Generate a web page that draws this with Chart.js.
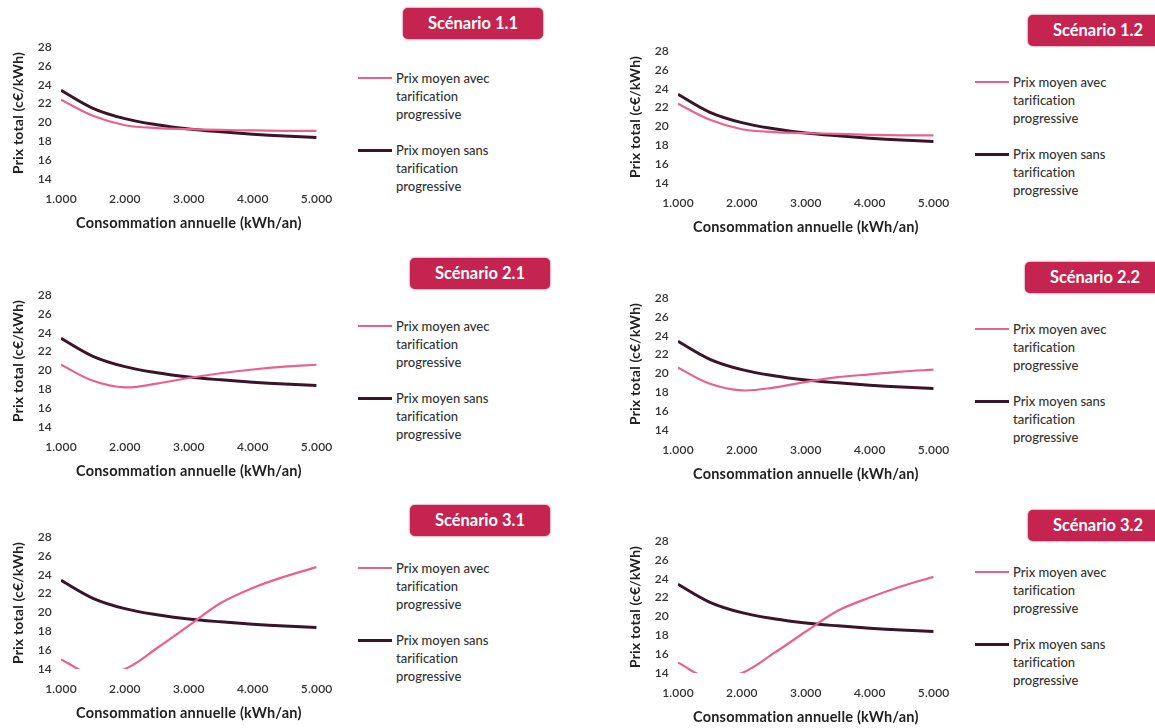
<!DOCTYPE html>
<html>
<head>
<meta charset="utf-8">
<script src="https://cdn.jsdelivr.net/npm/chart.js@4/dist/chart.umd.min.js"></script>
<style>
    body { margin:0; background:#fff; width:1155px; height:728px; overflow:hidden; position:relative; font-family:Lato, "Open Sans", sans-serif; font-variant-ligatures:none; }
    .panel { position:absolute; width:560px; height:240px; }
    .panel canvas { position:absolute; left:0; top:30px; }
    .badge { position:absolute; width:140px; height:31px; background:#c4244f; color:#fff; font-weight:bold; font-size:16.5px; line-height:31px; text-align:center; border-radius:5px; box-shadow:0 0 2px #9c1a3e; }
    .legend { position:absolute; left:358px; top:69px; font-size:13px; font-weight:500; color:#333; line-height:18px; }
    .legend_item { position:relative; padding-left:38px; margin-bottom:18px; white-space:pre; }
    .legend_item .swatch { position:absolute; left:0; width:34px; }
</style>
</head>
<body>
<script>
// consumption (kWh/an) and average total price (c€/kWh)
var consumption = [1000, 1500, 2000, 2500, 3000, 3500, 4000, 4500, 5000];
var prix_sans_tarification = [23.4, 21.5, 20.4, 19.75, 19.3, 19.0, 18.75, 18.55, 18.4];
var prix_avec_1_1 = [22.4, 20.7, 19.7, 19.4, 19.3, 19.2, 19.15, 19.1, 19.1];
var prix_avec_1_2 = [22.4, 20.7, 19.7, 19.4, 19.3, 19.2, 19.1, 19.05, 19.05];
var prix_avec_2_1 = [20.6, 18.9, 18.2, 18.6, 19.2, 19.7, 20.1, 20.4, 20.6];
var prix_avec_2_2 = [20.6, 18.9, 18.2, 18.5, 19.1, 19.6, 19.9, 20.2, 20.4];
var prix_avec_3_1 = [15.0, 13.4, 14.0, 16.2, 18.6, 21.0, 22.6, 23.8, 24.8];
var prix_avec_3_2 = [15.1, 13.4, 14.0, 16.1, 18.4, 20.6, 22.0, 23.2, 24.2];

var scenario_names = ["Scénario 1.1", "Scénario 1.2", "Scénario 2.1", "Scénario 2.2", "Scénario 3.1", "Scénario 3.2"];
var scenario_series = [prix_avec_1_1, prix_avec_1_2, prix_avec_2_1, prix_avec_2_2, prix_avec_3_1, prix_avec_3_2];

var label_avec = ["Prix moyen avec", "tarification", "progressive"];
var label_sans = ["Prix moyen sans", "tarification", "progressive"];
var x_ticks = [1000, 2000, 3000, 4000, 5000];
var y_min = 14, y_max = 28, y_step = 2;

var color_avec = "#e9628d";
var color_sans = "#3a1428";

// where each panel sits on the page (left, top) and its badge offset inside the panel
var panel_layout = [
    { left: 0,   top: 0,   badge_left: 403, badge_top: 8 },
    { left: 617, top: 4,   badge_left: 411, badge_top: 11 },
    { left: 0,   top: 248, badge_left: 410, badge_top: 10 },
    { left: 617, top: 251, badge_left: 408, badge_top: 11 },
    { left: 0,   top: 490, badge_left: 410, badge_top: 15 },
    { left: 617, top: 494, badge_left: 411, badge_top: 16 }
];

function format_thousands(value){
    return (value / 1000) + ".000";
}

function to_points(values){
    return consumption.map(function(x, i){ return { x: x, y: values[i] }; });
}

// a little letter spacing keeps the canvas from using the "ti" ligature
var no_ligature_plugin = {
    id: "no_ligature",
    beforeDraw: function(chart){ chart.ctx.letterSpacing = "0.2px"; }
};

function build_legend(holder){
    var legend = document.createElement("div");
    legend.className = "legend";
    var entries = [[label_avec, color_avec, 2], [label_sans, color_sans, 3]];
    entries.forEach(function(entry){
        var item = document.createElement("div");
        item.className = "legend_item";
        var swatch = document.createElement("span");
        swatch.className = "swatch";
        swatch.style.background = entry[1];
        swatch.style.height = entry[2] + "px";
        swatch.style.top = (9 - entry[2] / 2) + "px";
        item.appendChild(swatch);
        item.appendChild(document.createTextNode(entry[0].join("\n")));
        legend.appendChild(item);
    });
    holder.appendChild(legend);
}

function build_panel(index){
    var layout = panel_layout[index];
    var holder = document.createElement("div");
    holder.className = "panel";
    holder.style.left = layout.left + "px";
    holder.style.top = layout.top + "px";
    document.body.appendChild(holder);

    var badge = document.createElement("div");
    badge.className = "badge";
    badge.style.left = layout.badge_left + "px";
    badge.style.top = layout.badge_top + "px";
    badge.textContent = scenario_names[index];
    holder.appendChild(badge);

    var canvas = document.createElement("canvas");
    canvas.width = 345;
    canvas.height = 210;
    holder.appendChild(canvas);

    build_legend(holder);

    new Chart(canvas.getContext("2d"), {
        type: "line",
        data: {
            datasets: [
                { label: label_avec.join(" "), data: to_points(scenario_series[index]), borderColor: color_avec, borderWidth: 2.2, pointRadius: 0, tension: 0.35 },
                { label: label_sans.join(" "), data: to_points(prix_sans_tarification), borderColor: color_sans, borderWidth: 3, pointRadius: 0, tension: 0.35 }
            ]
        },
        plugins: [no_ligature_plugin],
        options: {
            responsive: false,
            animation: false,
            events: [],
            layout: { padding: { left: 0, top: 17, right: 25, bottom: 0 } },
            plugins: { legend: { display: false }, tooltip: { enabled: false } },
            scales: {
                x: {
                    type: "linear",
                    min: x_ticks[0],
                    max: x_ticks[x_ticks.length - 1],
                    afterBuildTicks: function(scale){ scale.ticks = x_ticks.map(function(v){ return { value: v }; }); },
                    afterFit: function(scale){ scale.height = 61; },
                    grid: { display: false, drawTicks: false },
                    border: { display: false },
                    ticks: { padding: 13, color: "#333", font: { family: "Lato", size: 12, weight: "600" }, callback: format_thousands, maxRotation: 0 },
                    title: { display: true, text: "Consommation annuelle (kWh/an)", color: "#222", padding: { top: 0, bottom: 8 }, font: { family: "Lato", size: 14.5, weight: "bold" } }
                },
                y: {
                    min: y_min,
                    max: y_max,
                    afterFit: function(scale){ scale.width = 61; },
                    grid: { display: false, drawTicks: false },
                    border: { display: false },
                    ticks: { stepSize: y_step, padding: 9, color: "#333", font: { family: "Lato", size: 12, weight: "600" } },
                    title: { display: true, text: "Prix total (c€/kWh)", color: "#222", padding: { top: 10, bottom: 0 }, font: { family: "Lato", size: 14, weight: "bold" } }
                }
            }
        }
    });
}

for(var i = 0; i < scenario_names.length; i++){
    build_panel(i);
}
</script>
</body>
</html>
